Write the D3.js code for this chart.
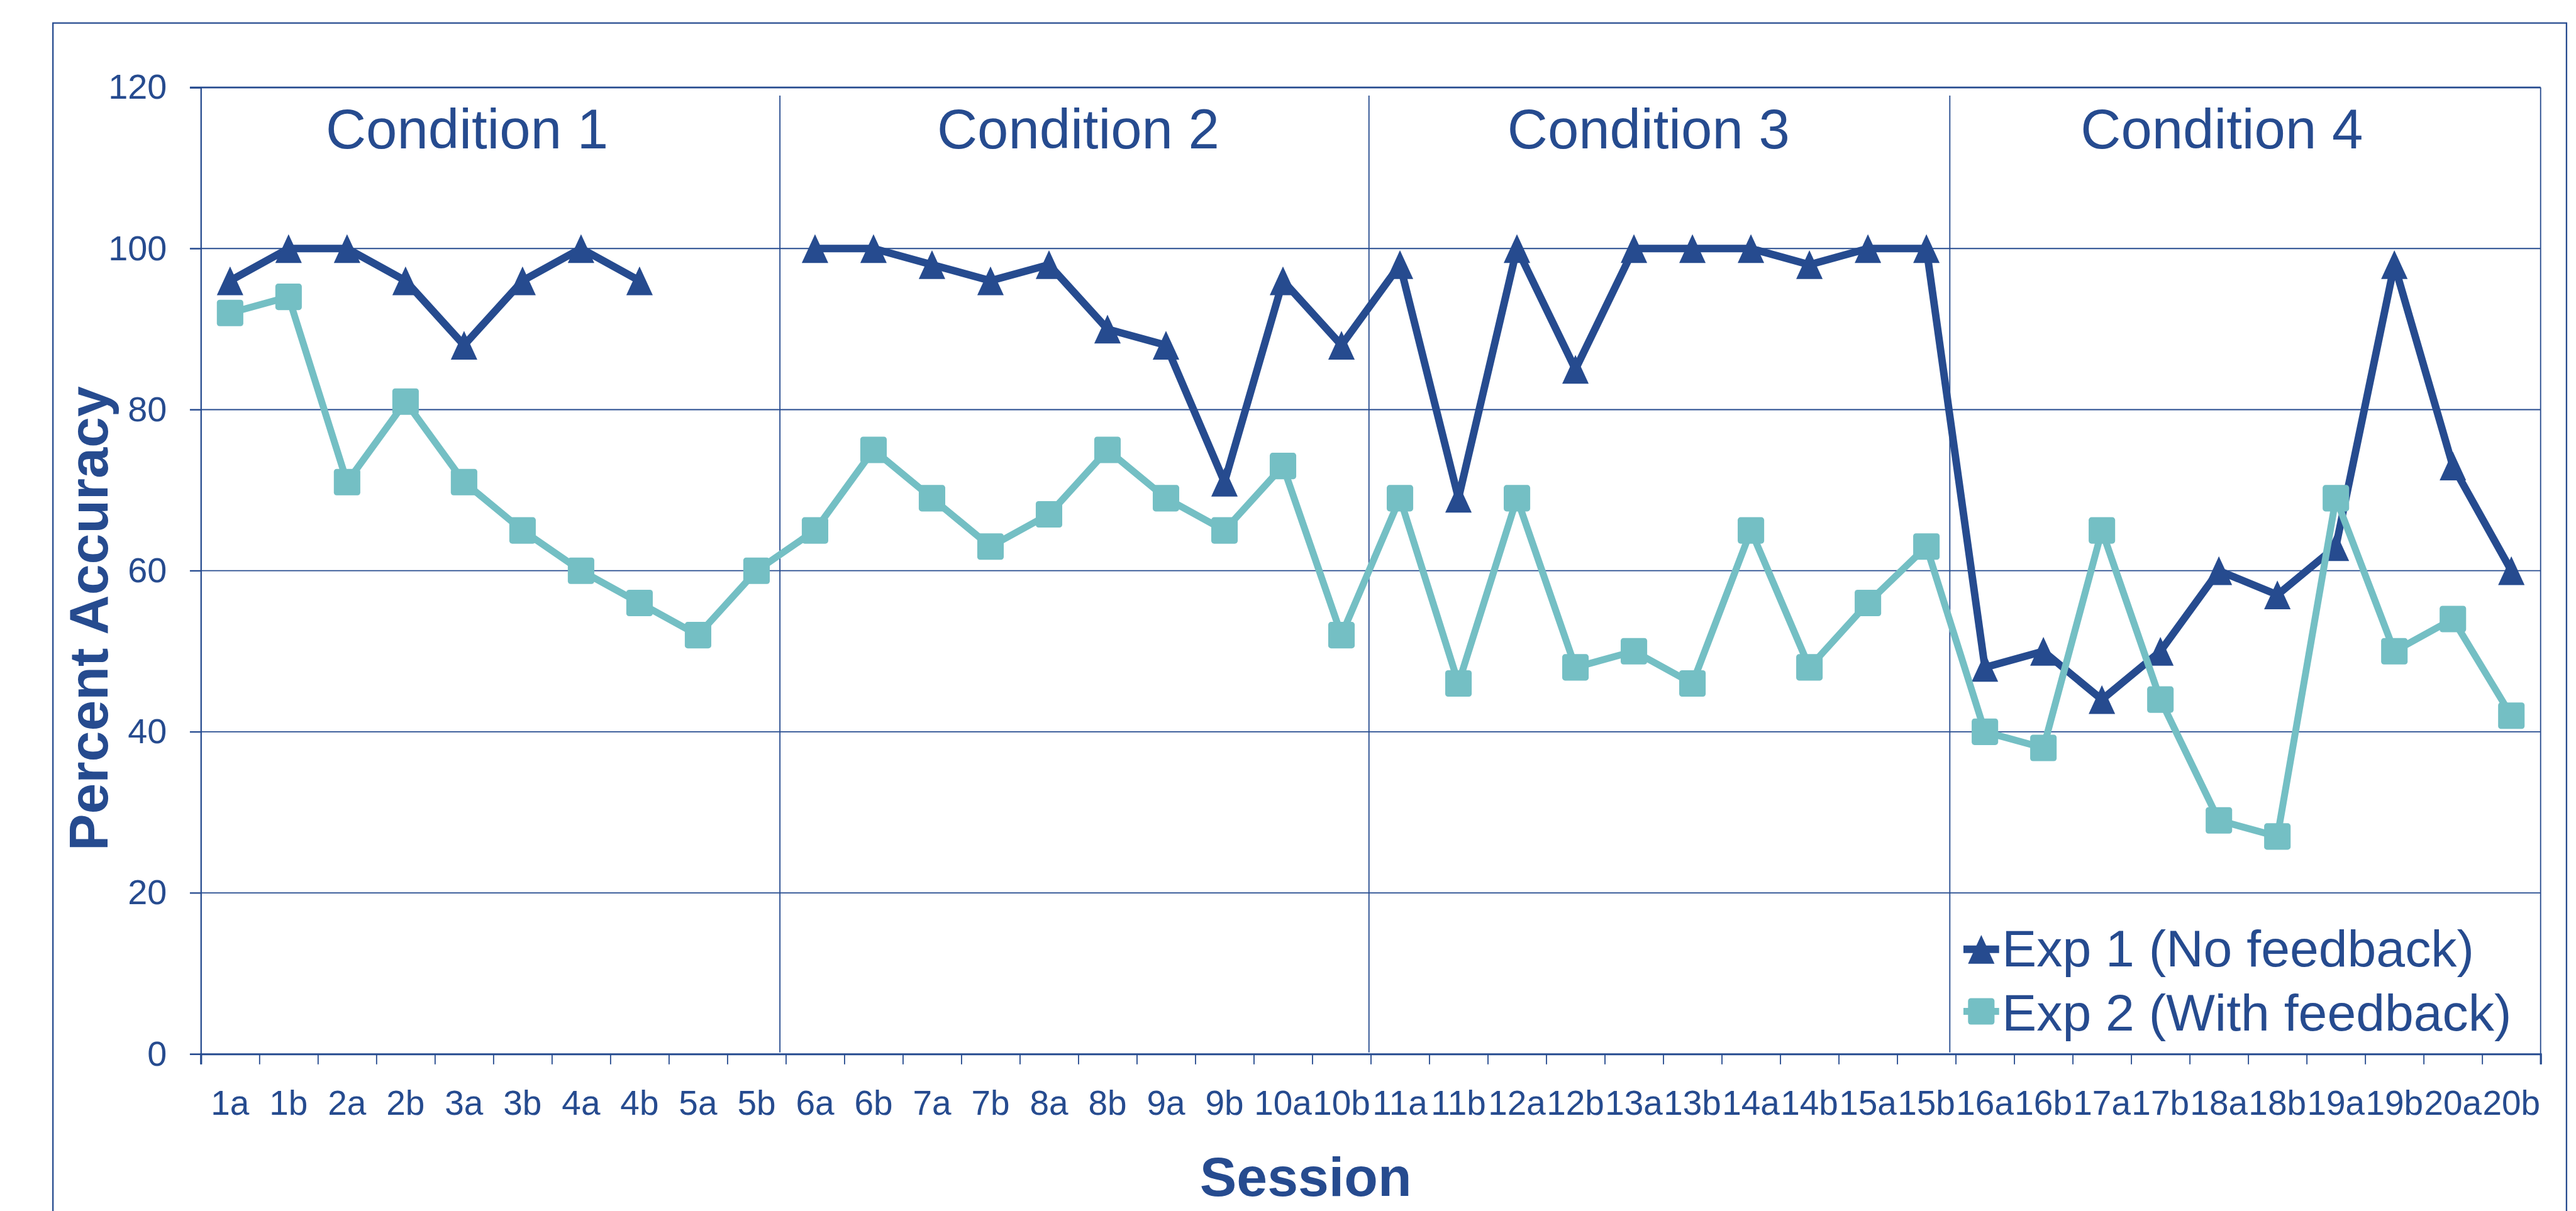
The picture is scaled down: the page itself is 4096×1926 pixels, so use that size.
<!DOCTYPE html>
<html>
<head>
<meta charset="utf-8">
<script src="https://cdn.jsdelivr.net/npm/d3@7"></script>
<style>
  html, body { margin: 0; padding: 0; background: #fff; }
  svg { display: block; }
  text { font-family: "Liberation Sans", Arial, sans-serif; fill: #264b8f; }
</style>
</head>
<body>
<div id="chart"></div>
<script>
// Sessions on the x axis
const sessions = ["1a","1b","2a","2b","3a","3b","4a","4b","5a","5b",
                  "6a","6b","7a","7b","8a","8b","9a","9b","10a","10b",
                  "11a","11b","12a","12b","13a","13b","14a","14b","15a","15b",
                  "16a","16b","17a","17b","18a","18b","19a","19b","20a","20b"];

// Exp 1 (No feedback) - no data for 5a / 5b
const exp1 = [96,100,100,96,88,96,100,96,null,null,
              100,100,98,96,98,90,88,71,96,88,
              98,69,100,85,100,100,100,98,100,100,
              48,50,44,50,60,57,63,98,73,60];

// Exp 2 (With feedback)
const exp2 = [92,94,71,81,71,65,60,56,52,60,
              65,75,69,63,67,75,69,65,73,52,
              69,46,69,48,50,46,65,48,56,63,
              40,38,65,44,29,27,69,50,54,42];

const seriesNames = ["Exp 1 (No feedback)", "Exp 2 (With feedback)"];
const conditions = ["Condition 1", "Condition 2", "Condition 3", "Condition 4"];
// label centres and divider positions, in session units
const conditionCenters = [4.55, 15.0, 24.75, 34.55];
const conditionBreaks = [9.9, 19.97, 29.9];
const yTicks = [0, 20, 40, 60, 80, 100, 120];

const navy = "#264b8f";
const teal = "#74bfc4";
const k = 0.915;  // reference is 4472 wide, window is 4096

const svg = d3.select("#chart")
    .append("svg")
    .attr("width", 4096)
    .attr("height", 1926);

// work in reference pixels, scale the whole thing down
const g = svg.append("g").attr("transform", `scale(${k})`);

const plot = { left: 349, right: 4415, top: 152, bottom: 1832 };

const x = d3.scaleLinear().domain([0, sessions.length]).range([plot.left, plot.right]);
const y = d3.scaleLinear().domain([0, 120]).range([plot.bottom, plot.top]);

// outer chart frame (bottom edge is off the picture)
g.append("path")
    .attr("d", "M92,2200 V40 H4460 V2200")
    .attr("fill", "none")
    .attr("stroke", navy)
    .attr("stroke-width", 2.5);

// gridlines
g.append("g")
    .selectAll("line")
    .data(yTicks.filter(t => t > 0))
    .enter()
    .append("line")
    .attr("x1", plot.left - 19)
    .attr("x2", plot.right)
    .attr("y1", d => y(d))
    .attr("y2", d => y(d))
    .attr("stroke", navy)
    .attr("stroke-width", d => d === 120 ? 3 : 2);

// plot area right edge
g.append("line")
    .attr("x1", plot.right).attr("x2", plot.right)
    .attr("y1", y(120)).attr("y2", y(0))
    .attr("stroke", navy).attr("stroke-width", 2);

// Y axis
const yAxis = g.append("g")
    .attr("transform", `translate(${plot.left},0)`)
    .call(d3.axisLeft(y).tickValues(yTicks).tickSize(19).tickPadding(40));
yAxis.select(".domain").attr("stroke", navy).attr("stroke-width", 2.5);
yAxis.selectAll(".tick line").attr("stroke", navy).attr("stroke-width", 2);
yAxis.selectAll(".tick text")
    .attr("fill", navy)
    .style("font-size", "61px")
    .style("font-family", "'Liberation Sans', Arial, sans-serif");

// X axis: tick marks between sessions, labels centred
const xAxis = g.append("g")
    .attr("transform", `translate(0,${plot.bottom})`)
    .call(d3.axisBottom(x).tickValues(d3.range(sessions.length + 1)).tickSize(18).tickFormat(""));
xAxis.select(".domain").attr("stroke", navy).attr("stroke-width", 3.5);
xAxis.selectAll(".tick line").attr("stroke", navy).attr("stroke-width", 2);

g.append("g")
    .selectAll("text")
    .data(sessions)
    .enter()
    .append("text")
    .attr("x", (d, i) => x(i + 0.5))
    .attr("y", 1938)
    .attr("text-anchor", "middle")
    .style("font-size", "60px")
    .text(d => d);

// condition dividers and labels
g.append("g")
    .selectAll("line")
    .data(conditionBreaks)
    .enter()
    .append("line")
    .attr("x1", d => x(d)).attr("x2", d => x(d))
    .attr("y1", y(119)).attr("y2", y(0.2))
    .attr("stroke", navy)
    .attr("stroke-width", 2);

g.append("g")
    .selectAll("text")
    .data(conditions)
    .enter()
    .append("text")
    .attr("x", (d, i) => x(conditionCenters[i]))
    .attr("y", y(112.4))
    .attr("text-anchor", "middle")
    .style("font-size", "97px")
    .text(d => d);

// axis titles
g.append("text")
    .attr("x", 2269)
    .attr("y", 2079)
    .attr("text-anchor", "middle")
    .style("font-size", "96px")
    .style("font-weight", "bold")
    .text("Session");

g.append("text")
    .attr("transform", "translate(187,1075) rotate(-90)")
    .attr("text-anchor", "middle")
    .style("font-size", "96px")
    .style("font-weight", "bold")
    .text("Percent Accuracy");

// marker shapes
const triW = 46, triH = 50, sq = 46;
const triPath = `M0,${-triH / 2}L${triW / 2},${triH / 2}L${-triW / 2},${triH / 2}Z`;

function drawSeries(values, color, width, marker) {
    const line = d3.line()
        .defined(d => d != null)
        .x((d, i) => x(i + 0.5))
        .y(d => y(d));

    g.append("path")
        .datum(values)
        .attr("d", line)
        .attr("fill", "none")
        .attr("stroke", color)
        .attr("stroke-width", width)
        .attr("stroke-linejoin", "round");

    const pts = values.map((v, i) => ({ v, i })).filter(d => d.v != null);
    const mg = g.append("g");
    if (marker === "triangle") {
        mg.selectAll("path")
            .data(pts)
            .enter()
            .append("path")
            .attr("d", triPath)
            .attr("transform", d => `translate(${x(d.i + 0.5)},${y(d.v)})`)
            .attr("fill", color);
    } else {
        mg.selectAll("rect")
            .data(pts)
            .enter()
            .append("rect")
            .attr("x", d => x(d.i + 0.5) - sq / 2)
            .attr("y", d => y(d.v) - sq / 2)
            .attr("width", sq)
            .attr("height", sq)
            .attr("rx", 5)
            .attr("fill", color);
    }
}

drawSeries(exp1, navy, 13, "triangle");
drawSeries(exp2, teal, 12, "square");

// legend
const legend = g.append("g").attr("transform", "translate(3443,0)");
const legendRows = [
    { name: seriesNames[0], color: navy, marker: "triangle", cy: 1650, base: 1680 },
    { name: seriesNames[1], color: teal, marker: "square", cy: 1758, base: 1791 }
];

legendRows.forEach(r => {
    legend.append("line")
        .attr("x1", -31).attr("x2", 31)
        .attr("y1", r.cy).attr("y2", r.cy)
        .attr("stroke", r.color)
        .attr("stroke-width", r.marker === "triangle" ? 13 : 12);
    if (r.marker === "triangle") {
        legend.append("path")
            .attr("d", triPath)
            .attr("transform", `translate(0,${r.cy})`)
            .attr("fill", r.color);
    } else {
        legend.append("rect")
            .attr("x", -sq / 2).attr("y", r.cy - sq / 2)
            .attr("width", sq).attr("height", sq)
            .attr("rx", 5)
            .attr("fill", r.color);
    }
    legend.append("text")
        .attr("x", 36)
        .attr("y", r.base)
        .style("font-size", "90px")
        .text(r.name);
});
</script>
</body>
</html>
